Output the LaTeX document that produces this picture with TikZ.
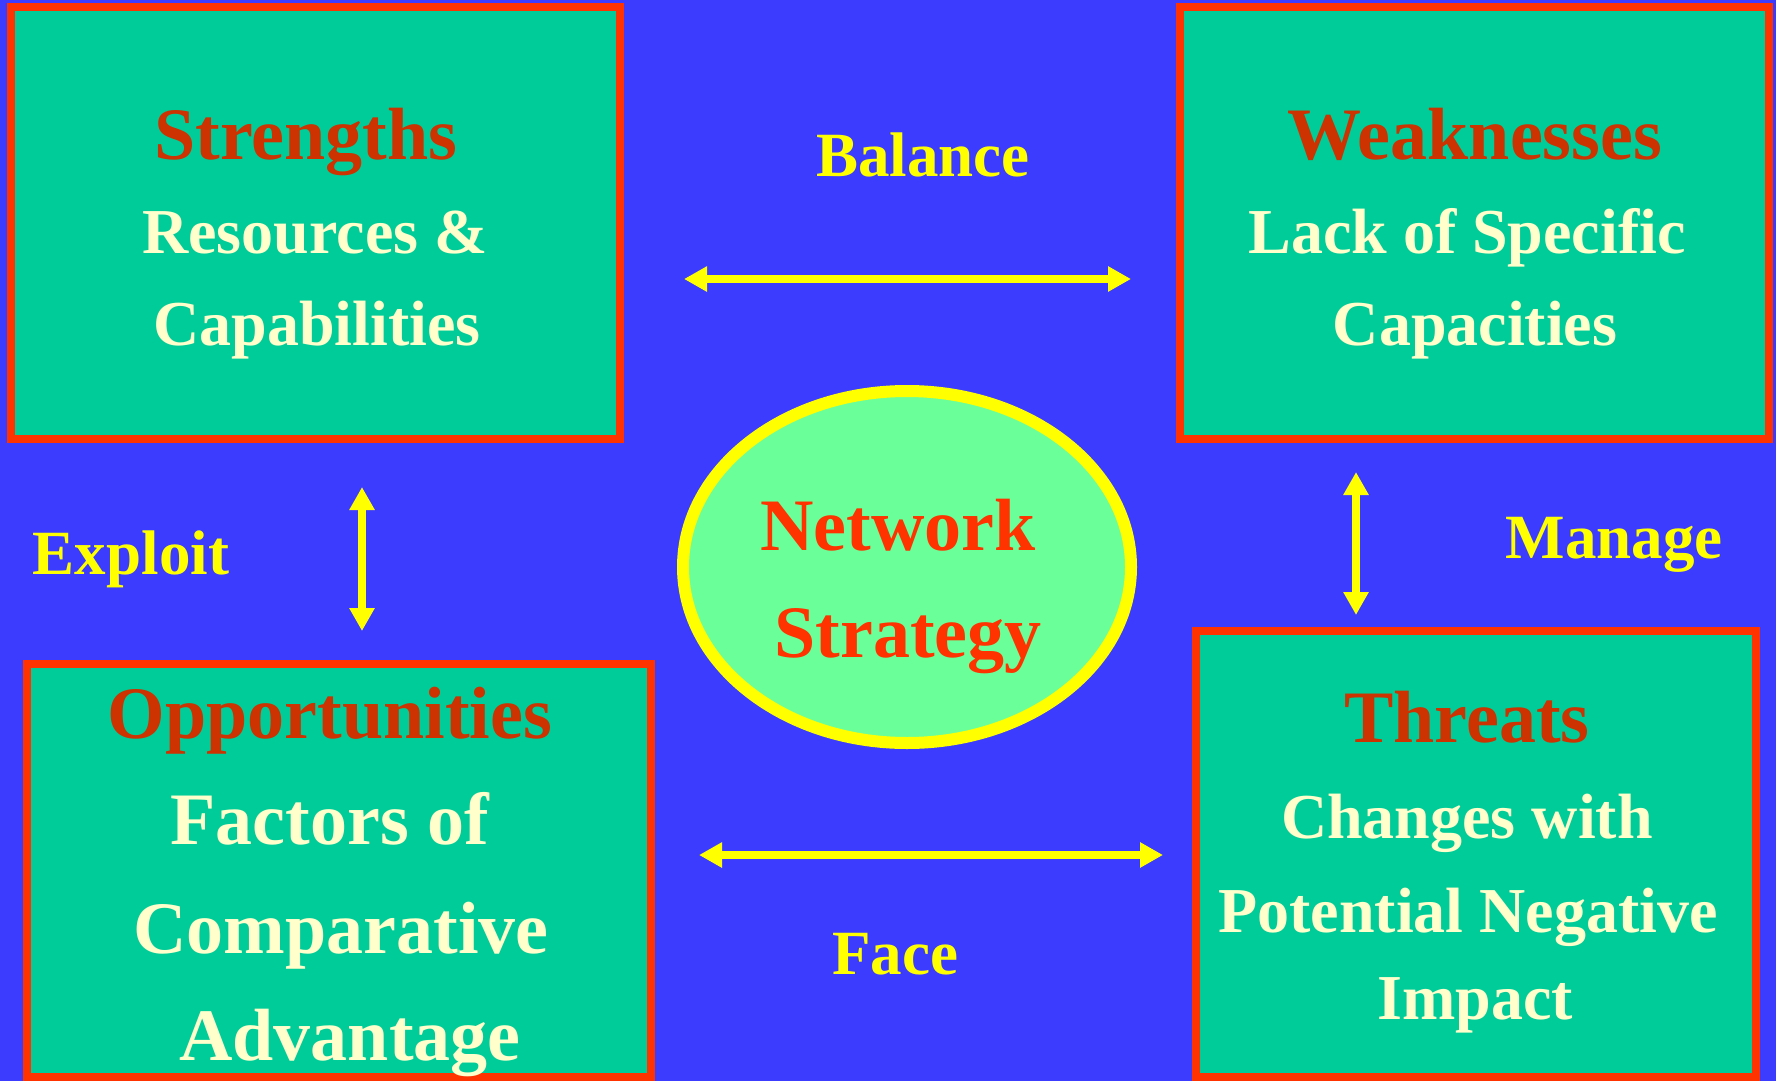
\documentclass[tikz,border=0pt]{standalone}
\usepackage{fontspec}
\setmainfont{Liberation Serif}
\usetikzlibrary{shapes.geometric,arrows.meta}
\definecolor{bgblue}{HTML}{3C3CFF}
\definecolor{boxteal}{HTML}{00CC99}
\definecolor{bordred}{HTML}{FF3300}
\definecolor{titlered}{HTML}{CC3300}
\definecolor{bodycream}{HTML}{FFFFCC}
\definecolor{ellgreen}{HTML}{6BFF99}
\definecolor{yel}{HTML}{FFFF00}
\begin{document}
\begin{tikzpicture}[x=1pt,y=-1pt,
  swotbox/.style={draw=bordred,fill=boxteal,line width=8pt,rectangle,inner sep=0pt},
  ttl/.style={anchor=base,text=titlered,font=\fontsize{74}{74}\selectfont\bfseries,inner sep=0pt},
  bodytxt/.style={anchor=base,text=bodycream,font=\fontsize{64}{64}\selectfont\bfseries,inner sep=0pt},
  bigbody/.style={anchor=base,text=bodycream,font=\fontsize{74}{74}\selectfont\bfseries,inner sep=0pt},
  lbl/.style={anchor=base,text=yel,font=\fontsize{63}{63}\selectfont\bfseries,inner sep=0pt},
  dbl/.style={draw=yel,line width=8pt,{Triangle[length=23pt,width=24pt]}-{Triangle[length=23pt,width=24pt]}}
]
\fill[bgblue] (0,0) rectangle (1776,1081);
\useasboundingbox (0,0) rectangle (1776,1081);

% boxes
\node[swotbox,minimum width=609pt,minimum height=432pt] (S) at (315.5,223) {};
\node[swotbox,minimum width=589pt,minimum height=432pt] (W) at (1474.5,223) {};
\node[swotbox,minimum width=624pt,minimum height=413pt] (O) at (339,870.5) {};
\node[swotbox,minimum width=560pt,minimum height=446pt] (T) at (1476,854) {};

% ellipse
\node[ellipse,draw=yel,fill=ellgreen,line width=12pt,minimum width=448pt,minimum height=352pt,inner sep=0pt] (N) at (907,567) {};

% Strengths text
\node[ttl] (s1) at (306,159) {Strengths};
\node[bodytxt] (s2) at (315,253) {Resources \&};
\node[bodytxt] (s3) at (317,345) {Capabilities};

% Weaknesses text
\node[ttl] (w1) at (1475,159) {Weaknesses};
\node[bodytxt] (w2) at (1467,253) {Lack of Specific};
\node[bodytxt] (w3) at (1475,345) {Capacities};

% Opportunities text
\node[ttl] (o1) at (330,738) {Opportunities};
\node[bigbody] (o2) at (330,844) {Factors of};
\node[bigbody] (o3) at (341,953) {Comparative};
\node[bigbody] (o4) at (350,1060) {Advantage};

% Threats text
\node[ttl] (t1) at (1467,742) {Threats};
\node[bodytxt] (t2) at (1467,838) {Changes with};
\node[bodytxt] (t3) at (1468,932) {Potential Negative};
\node[bodytxt] (t4) at (1475,1019) {Impact};

% Network strategy
\node[anchor=base,text=bordred,font=\fontsize{74}{74}\selectfont\bfseries,inner sep=0pt] (n1) at (898,550) {Network};
\node[anchor=base,text=bordred,font=\fontsize{74}{74}\selectfont\bfseries,inner sep=0pt] (n2) at (908,657) {Strategy};

% labels
\node[lbl] (lb) at (923,176) {Balance};
\node[lbl] (le) at (131,574) {Exploit};
\node[lbl] (lm) at (1614,558) {Manage};
\node[lbl] (lf) at (895,974) {Face};

% arrow ends
\coordinate (b1) at (684,279);
\coordinate (b2) at (1131,279);
\coordinate (f1) at (699,855);
\coordinate (f2) at (1163,855);
\coordinate (e1) at (362,487);
\coordinate (e2) at (362,631);
\coordinate (m1) at (1356,472);
\coordinate (m2) at (1356,615);

\draw[dbl] (b1) -- (b2);
\draw[dbl] (f1) -- (f2);
\draw[dbl] (e1) -- (e2);
\draw[dbl] (m1) -- (m2);
\end{tikzpicture}
\end{document}
